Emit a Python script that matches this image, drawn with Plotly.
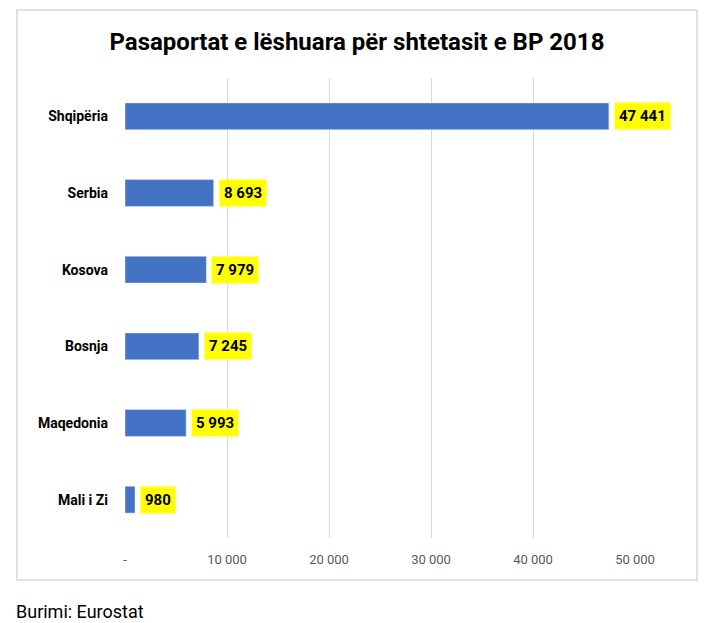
import plotly.graph_objects as go

countries = ["Shqipëria", "Serbia", "Kosova", "Bosnja", "Maqedonia", "Mali i Zi"]
passports = [47441, 8693, 7979, 7245, 5993, 980]
tick_vals = [0, 10000, 20000, 30000, 40000, 50000]
tick_text = ["-", "10 000", "20 000", "30 000", "40 000", "50 000"]

FONT = "Roboto, 'Open Sans', sans-serif"


def fmt(v):
    return f"{v:,}".replace(",", " ")


fig = go.Figure(go.Bar(
    x=passports,
    y=countries,
    orientation="h",
    marker_color="#4472C4",
    width=0.35,
))

for c, v in zip(countries, passports):
    fig.add_annotation(
        x=v, y=c, text=f"<b>{fmt(v)}</b>",
        xanchor="left", xshift=5, showarrow=False,
        bgcolor="#FFFF00", borderpad=4,
        font=dict(size=15, color="black", family=FONT),
    )

# chart border and source note
fig.add_shape(type="rect", xref="paper", yref="paper",
              x0=-0.2118, x1=1.1216, y0=-0.0913, y1=1.1478,
              line=dict(color="#D9D9D9", width=1.5))
fig.add_annotation(text="Burimi: Eurostat", xref="paper", yref="paper",
                   x=-0.218, y=-0.16, xanchor="left", yanchor="middle",
                   showarrow=False, font=dict(size=18, color="black", family=FONT))

fig.update_layout(
    width=705, height=615,
    margin=dict(l=117, r=78, t=70, b=85),
    plot_bgcolor="white", paper_bgcolor="white",
    title=dict(text="<b>Pasaportat e lëshuara për shtetasit e BP 2018</b>",
               x=0.495, xref="container", xanchor="center", y=0.945, yanchor="middle",
               font=dict(size=24, color="black", family=FONT)),
    font=dict(family=FONT),
    showlegend=False,
)
fig.update_xaxes(range=[0, 50000], tickvals=tick_vals, ticktext=tick_text,
                 showgrid=True, gridcolor="#D9D9D9", zeroline=False,
                 tickfont=dict(size=13, color="#595959"), ticklabelstandoff=12)
fig.update_yaxes(autorange="reversed", showgrid=False,
                 tickfont=dict(size=14, color="black"),
                 ticklabelstandoff=16, tickprefix="<b>", ticksuffix="</b>")
fig.update_traces(cliponaxis=False)

fig.write_html("out.html")
